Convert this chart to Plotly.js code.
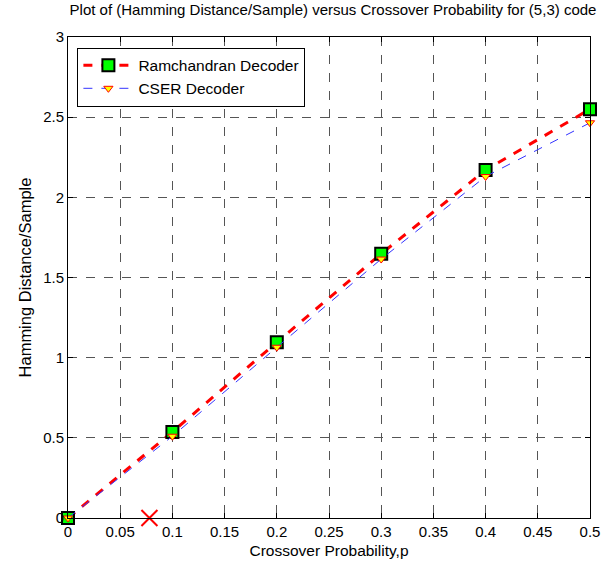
<!DOCTYPE html>
<html><head><meta charset="utf-8">
<script src="https://cdn.plot.ly/plotly-3.0.1.min.js"></script>
<style>body{margin:0;background:#fff}#c{width:611px;height:566px}</style>
</head><body><div id="c"></div>
<script>
var p = [0, 0.1, 0.2, 0.3, 0.4, 0.5];
var ramchandran = [0, 0.537, 1.096, 1.648, 2.17, 2.55];
var cser = [0, 0.51, 1.065, 1.615, 2.13, 2.465];
var strayX = [0.078];
var strayY = [0];
var xTicks = [0, 0.05, 0.1, 0.15, 0.2, 0.25, 0.3, 0.35, 0.4, 0.45, 0.5];
var xTickText = ['0','0.05','0.1','0.15','0.2','0.25','0.3','0.35','0.4','0.45','0.5'];
var yTicks = [0, 0.5, 1, 1.5, 2, 2.5, 3];
var yTickText = ['0','0.5','1','1.5','2','2.5','3'];

var traces = [
 {x:p, y:ramchandran, name:'Ramchandran Decoder', mode:'lines+markers', cliponaxis:false,
  line:{color:'#ff0000', width:3, dash:'dash'},
  marker:{symbol:'square', size:12, color:'#00ff00', line:{color:'#000', width:2}}},
 {x:p, y:cser, name:'CSER Decoder', mode:'lines+markers', cliponaxis:false,
  line:{color:'#3333ff', width:1, dash:'dash'},
  marker:{symbol:'triangle-down', size:8, color:'#ffff00', line:{color:'#ff0000', width:1}}},
 {x:strayX, y:strayY, mode:'markers', showlegend:false, cliponaxis:false,
  marker:{symbol:'x-thin', size:16, color:'#ff0000', line:{color:'#ff0000', width:2}}}
];
var ax = {showline:true, mirror:'ticks', linecolor:'#000', linewidth:1, ticks:'inside', ticklen:5, tickcolor:'#000',
  showgrid:true, gridcolor:'#555', griddash:'dash', gridwidth:1, zeroline:false,
  tickfont:{family:'Liberation Sans, Arial', size:15, color:'#000'}};
var layout = {
 width:611, height:566, paper_bgcolor:'#fff', plot_bgcolor:'#fff',
 margin:{l:68, r:21, t:37, b:48},
 font:{family:'Liberation Sans, Arial', color:'#000'},
 title:{text:'Plot of (Hamming Distance/Sample) versus Crossover Probability for (5,3) code', font:{size:15}, x:0.545, xanchor:'center', y:0.992, yanchor:'top'},
 xaxis:Object.assign({}, ax, {range:[0,0.5], tickvals:xTicks, ticktext:xTickText,
   title:{text:'Crossover Probability,p', font:{size:15.5}, standoff:6}}),
 yaxis:Object.assign({}, ax, {range:[0,3], tickvals:yTicks, ticktext:yTickText,
   title:{text:'Hamming Distance/Sample', font:{size:16.5}, standoff:7}}),
 legend:{x:0.018, y:0.978, xanchor:'left', yanchor:'top', bgcolor:'#fff', bordercolor:'#000', borderwidth:1,
   font:{size:15.5}, tracegroupgap:4, itemwidth:50}
};
Plotly.newPlot('c', traces, layout, {displayModeBar:false});
</script></body></html>
